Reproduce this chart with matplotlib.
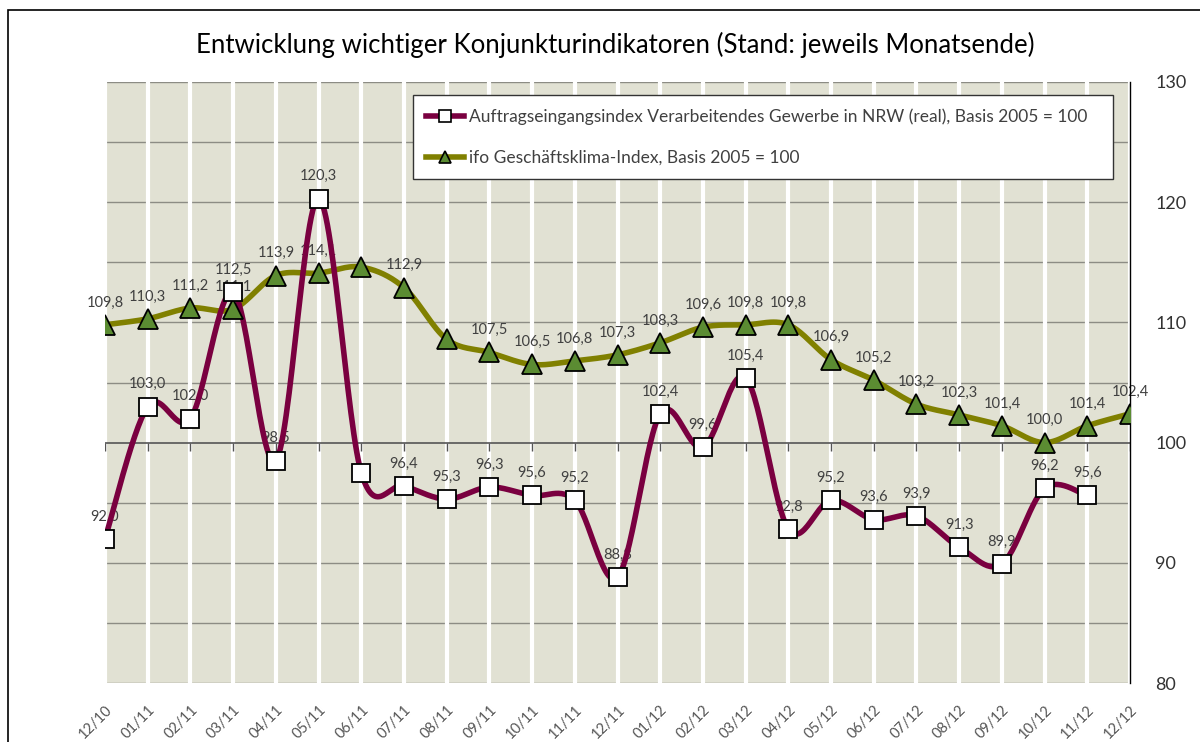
import numpy as np
import matplotlib.pyplot as plt
from matplotlib.patches import Rectangle

plt.rcParams["font.family"] = ["Lato", "DejaVu Sans"]

months = [
    "12/10", "01/11", "02/11", "03/11", "04/11", "05/11", "06/11", "07/11",
    "08/11", "09/11", "10/11", "11/11", "12/11", "01/12", "02/12", "03/12",
    "04/12", "05/12", "06/12", "07/12", "08/12", "09/12", "10/12", "11/12",
    "12/12",
]

# Auftragseingangsindex NRW (no value for 12/12 yet)
auftrag = [
    92.0, 103.0, 102.0, 112.5, 98.5, 120.3, 97.5, 96.4, 95.3, 96.3, 95.6,
    95.2, 88.8, 102.4, 99.6, 105.4, 92.8, 95.2, 93.6, 93.9, 91.3, 89.9,
    96.2, 95.6,
]
auftrag_labeled = [True] * 24
auftrag_labeled[6] = False

ifo = [
    109.8, 110.3, 111.2, 111.1, 113.9, 114.1, 114.6, 112.9, 108.6, 107.5,
    106.5, 106.8, 107.3, 108.3, 109.6, 109.8, 109.8, 106.9, 105.2, 103.2,
    102.3, 101.4, 100.0, 101.4, 102.4,
]
ifo_labeled = [True] * 25
ifo_labeled[6] = False
ifo_labeled[8] = False

y_ticks = [80, 90, 100, 110, 120, 130]

BG = "#E1E1D3"
MAROON = "#7A0040"
OLIVE = "#808000"
GREEN = "#5B8C32"
TXT = "#404040"


def smooth(xs, ys, steps=30):
    """Excel-like smoothed line (Catmull-Rom as cubic Bezier)."""
    p = np.column_stack([xs, ys]).astype(float)
    n = len(p)
    out = [p[0]]
    t = np.linspace(0, 1, steps)[1:, None]
    for i in range(n - 1):
        p0 = p[i - 1] if i > 0 else p[i]
        p3 = p[i + 2] if i + 2 < n else p[i + 1]
        c1 = p[i] + (p[i + 1] - p0) / 6
        c2 = p[i + 1] - (p3 - p[i]) / 6
        seg = ((1 - t) ** 3) * p[i] + 3 * ((1 - t) ** 2) * t * c1 \
            + 3 * (1 - t) * t ** 2 * c2 + t ** 3 * p[i + 1]
        out.extend(seg)
    out = np.array(out)
    return out[:, 0], out[:, 1]


fig = plt.figure(figsize=(12, 7.42), dpi=100)
ax = fig.add_axes([0.0875, 0.0795, 0.8542, 0.81])
ax.set_facecolor(BG)

x_a = np.arange(len(auftrag))
x_i = np.arange(len(ifo))

# grid
for yy in range(80, 131, 5):
    if yy != 100:
        ax.axhline(yy, color="#8C8C84", lw=1.0, zorder=1)
for xx in range(len(months)):
    ax.axvline(xx, color="white", lw=3, zorder=1)
ax.axhline(100, color="#555555", lw=1.2, zorder=2)
ax.plot(np.arange(len(months)), [100] * len(months), ls="none", marker=3,
        ms=6, mew=1.0, color="#555555", zorder=2)

# data labels sit below the lines, as in the original
for xx, v, show in zip(x_i, ifo, ifo_labeled):
    if show:
        ax.annotate(f"{v:.1f}".replace(".", ","), (xx, v), xytext=(0, 11),
                    textcoords="offset points", ha="center", va="bottom",
                    fontsize=10.5, color=TXT, zorder=2.5)
for xx, v, show in zip(x_a, auftrag, auftrag_labeled):
    if show:
        ax.annotate(f"{v:.1f}".replace(".", ","), (xx, v), xytext=(0, 11),
                    textcoords="offset points", ha="center", va="bottom",
                    fontsize=10.5, color=TXT, zorder=2.5)

sx, sy = smooth(x_i, ifo)
ax.plot(sx, sy, color=OLIVE, lw=4, zorder=3, solid_capstyle="round")
ax.plot(x_i, ifo, ls="none", marker="^", ms=14, mfc=GREEN, mec="black",
        mew=1.3, zorder=5)

sx, sy = smooth(x_a, auftrag)
ax.plot(sx, sy, color=MAROON, lw=4, zorder=4, solid_capstyle="round")
ax.plot(x_a, auftrag, ls="none", marker="s", ms=13, mfc="white", mec="black",
        mew=1.3, zorder=6)

# legend proxies
ax.plot([], [], color=MAROON, lw=4, marker="s", ms=8, mfc="white",
        mec="black", mew=1.2,
        label="Auftragseingangsindex Verarbeitendes Gewerbe in NRW (real), Basis 2005 = 100")
ax.plot([], [], color=OLIVE, lw=4, marker="^", ms=9, mfc=GREEN,
        mec="black", mew=1.2, label="ifo Geschäftsklima-Index, Basis 2005 = 100")
leg = ax.legend(loc="upper left", bbox_to_anchor=(0.3005, 0.978, 0.683, 0),
                mode="expand", fontsize=12.5, frameon=True, fancybox=False,
                edgecolor="#333333", framealpha=1, handlelength=2.2,
                handletextpad=0.3, labelspacing=1.45, borderpad=0.75,
                borderaxespad=0)
leg.get_frame().set_linewidth(1.0)
leg.set_zorder(10)
for t in leg.get_texts():
    t.set_color(TXT)

ax.set_xlim(0, len(months) - 1)
ax.set_ylim(80, 130)
ax.set_xticks(np.arange(len(months)))
ax.set_xticklabels(months, rotation=45, ha="right", rotation_mode="anchor",
                   fontsize=10.5, color="#555555")
ax.tick_params(axis="x", length=0, pad=14)
ax.yaxis.tick_right()
ax.set_yticks(y_ticks)
ax.set_yticklabels([str(v) for v in y_ticks], fontsize=13, color="#333333")
ax.tick_params(axis="y", length=0, pad=18)

for s in ["top", "left", "bottom"]:
    ax.spines[s].set_visible(False)
ax.spines["right"].set_color("black")
ax.spines["right"].set_linewidth(1.0)

fig.text(0.5125, 0.94, "Entwicklung wichtiger Konjunkturindikatoren (Stand: jeweils Monatsende)",
         ha="center", va="center", fontsize=18.5, color="black")

fig.patches.append(Rectangle((8 / 1200, -0.05), 1.1, 1 - 10 / 742 + 0.05,
                             transform=fig.transFigure, fill=False,
                             edgecolor="black", lw=1.2))

fig.savefig("out.png", dpi=100)
